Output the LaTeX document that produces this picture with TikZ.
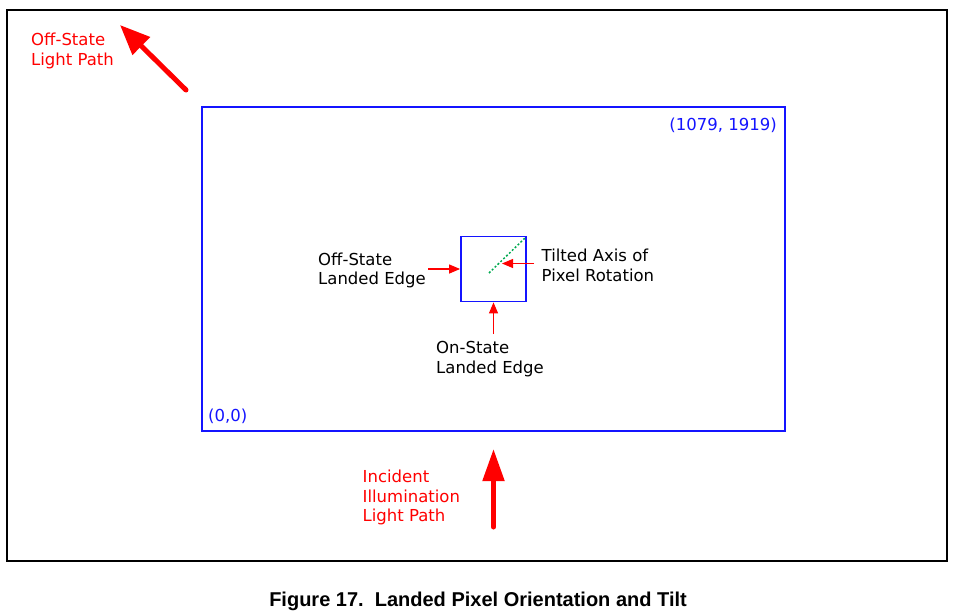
\documentclass[tikz,border=0pt]{standalone}
\usepackage{fontspec}
\setmainfont{DejaVu Sans}
\newfontfamily\capfont{Liberation Sans}
\usetikzlibrary{arrows.meta}
\definecolor{dblue}{RGB}{20,20,255}
\definecolor{dgreen}{RGB}{0,170,80}
\begin{document}
\begin{tikzpicture}[x=1pt,y=-1pt,
  lbl/.style={inner sep=0pt,anchor=west,align=left,font=\fontsize{16.5}{19.5}\selectfont},
  redlbl/.style={lbl,text=red},
  bluelbl/.style={lbl,text=dblue},
  bigarrow/.style={red,line width=5pt,line cap=round,-{Triangle[length=30pt,width=24pt]}},
  smallarrow/.style={red,line width=1.2pt,-{Triangle[length=11pt,width=9pt]}}]
\useasboundingbox (0,0) rectangle (964,613);
\node[draw=black,line width=1.6pt,minimum width=940pt,minimum height=551pt,inner sep=0pt] (outer) at (477,285.5) {};
\node[draw=dblue,line width=1.8pt,minimum width=583pt,minimum height=324pt,inner sep=0pt] (array) at (493.5,269) {};
\node[draw=dblue,line width=1.8pt,minimum width=65pt,minimum height=65pt,inner sep=0pt] (pix) at (493.5,269) {};
\coordinate (ax1) at (489,273);
\coordinate (ax2) at (525,238);
\draw[dgreen,line width=1.5pt,dash pattern=on 2pt off 2pt] (ax1) -- (ax2);
% labels
\node[redlbl] (offpath) at (31,51) {Off-State\\Light Path};
\node[bluelbl,anchor=east] (maxc) at (777,125.5) {(1079, 1919)};
\node[bluelbl] (origin) at (208,416.5) {(0,0)};
\node[lbl] (offedge) at (318,270.5) {Off-State\\Landed Edge};
\node[lbl] (tilt) at (541.5,265.5) {Tilted Axis of\\Pixel Rotation};
\node[lbl] (onedge) at (436,359) {On-State\\Landed Edge};
\node[redlbl] (incident) at (362.5,497.5) {Incident\\Illumination\\Light Path};
\node[inner sep=0pt,font=\capfont\bfseries\fontsize{20}{24}\selectfont] (cap) at (478,601) {Figure 17.\ \ Landed Pixel Orientation and Tilt};
% arrows
\coordinate (offtail) at (186,90);
\coordinate (offtip) at (120,25);
\draw[bigarrow] (offtail) -- (offtip);
\coordinate (inctail) at (493.5,527);
\coordinate (inctip) at (493.5,449);
\draw[bigarrow,-{Triangle[length=32pt,width=21pt]}] (inctail) -- (inctip);
\coordinate (offedgetail) at (428,269);
\draw[smallarrow] (offedgetail) -- (pix.west);
\coordinate (onedgetail) at (493.5,334);
\draw[smallarrow] (onedgetail) -- (pix.south);
\coordinate (tilttail) at (534,263.5);
\coordinate (tilttip) at (502,263.5);
\draw[smallarrow] (tilttail) -- (tilttip);
\end{tikzpicture}
\end{document}
